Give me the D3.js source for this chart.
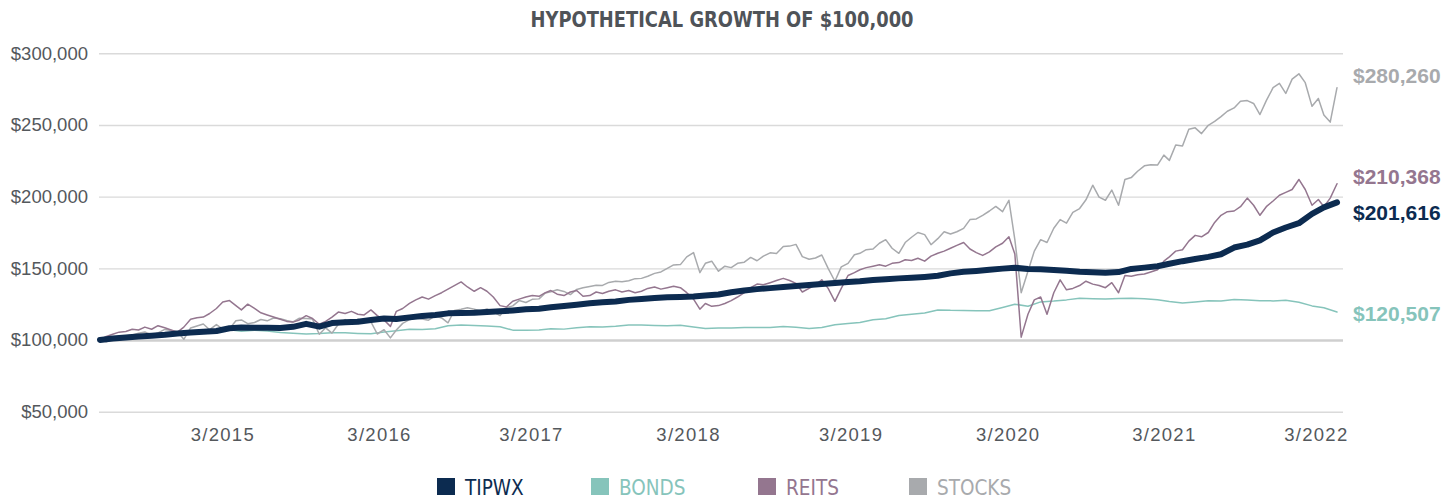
<!DOCTYPE html>
<html>
<head>
<meta charset="utf-8">
<script src="https://cdn.jsdelivr.net/npm/d3@7"></script>
<style>
  body { margin: 0; background: #fff; }
  svg { display: block; }
  .ytick text { font-family: "Liberation Sans", Arial, sans-serif; font-size: 18.5px; fill: #54585c; }
  .xtick text { font-family: "Liberation Sans", Arial, sans-serif; font-size: 18.5px; fill: #54585c; letter-spacing: 1.3px; }
  .title { font-family: "Liberation Sans Narrow", "DejaVu Sans Condensed", sans-serif; font-weight: bold; font-size: 22px; fill: #4f5358; }
  .legend text { font-family: "Liberation Sans Narrow", "DejaVu Sans Condensed", sans-serif; font-size: 20.5px; }
  .endlabel { font-family: "Liberation Sans", Arial, sans-serif; font-weight: bold; font-size: 21px; }
</style>
</head>
<body>
<svg id="chart"></svg>
<script>
// growth of $100,000, values in $ thousands
// TIPWX and BONDS: month-end values from 3/31/2014 to 3/31/2022
const tipwx = [
  100, 101, 101.8, 102.5, 103, 103.6, 104.5, 105.2, 105.8, 106.3,
  108.2, 108.8, 108.6, 108.5, 108.4, 109.2, 111.3, 109.3, 111.8, 112.4,
  112.8, 114, 115, 114.6, 115.8, 116.8, 117.5, 118.6, 118.8, 119,
  119.5, 120, 120.6, 121.4, 121.8, 122.8, 123.8, 124.6, 125.6, 126.3,
  126.9, 128, 128.6, 129.3, 129.8, 130, 130.4, 131, 131.8, 133.3,
  134.6, 135.5, 136.2, 137, 137.6, 138.3, 139, 139.8, 140.5, 141,
  141.8, 142.4, 143, 143.4, 144, 144.8, 146.5, 147.6, 148.2, 149,
  149.8, 150.4, 149.5, 149.3, 148.9, 148.3, 147.6, 147.3, 146.9, 147.4,
  149.6, 150.5, 151.5, 153.2, 155, 156.5, 158, 159.8, 164.5, 166.5,
  169.5, 175, 178.5, 181.5, 188, 192.5, 196
];
const bonds = [
  100, 100.8, 101.5, 102.5, 102.6, 103.7, 103.5, 104.3, 105, 105.1,
  107.2, 106.2, 106.8, 106.3, 105.2, 104.8, 104.2, 104.5, 105.1, 105,
  104.6, 104.3, 105.6, 106.5, 107.5, 107.4, 107.8, 110, 110.5, 110.2,
  109.8, 109.2, 106.9, 106.8, 107, 107.8, 107.6, 108.5, 109.3, 109.1,
  109.6, 110.5, 110.4, 110.2, 109.9, 110.3, 109.1, 108.1, 108.3, 108.4,
  108.8, 108.7, 108.8, 109.5, 108.9, 108.1, 108.7, 110.6, 111.6, 112.2,
  114.2, 114.8, 117.1, 118, 118.9, 121, 120.7, 120.6, 120.4, 120.4,
  122.7, 125, 123.5, 126.6, 127.2, 128, 129.2, 128.8, 128.6, 128.9,
  129.2, 128.8, 128.1, 126.9, 125.8, 126.6, 127.4, 127.2, 128.2, 128,
  127.4, 127.3, 127.7, 126.4, 123.8, 122.5, 119.5
];
// REITS and STOCKS: mid-month and month-end values from 3/31/2014 to 3/31/2022
const reits = [
  100, 102.5, 104, 105.5, 106, 107.5, 107, 109, 107.5, 110,
  108.5, 107, 105.5, 109, 114.5, 115.5, 116, 118.5, 122, 126.5,
  127.5, 124, 121, 125, 122, 119, 117.5, 116, 114.5, 113,
  112.5, 114, 117, 115, 111, 113, 116, 119.5, 118.5, 120,
  118, 117.5, 121, 117, 114, 109.5, 120, 122, 125.5, 128,
  130, 128.5, 131, 133, 135.5, 138, 140.5, 137, 134, 136.5,
  134, 130, 124, 123, 127, 128.5, 130, 131, 130.5, 133,
  134.5, 132, 131, 133.5, 134.5, 130.5, 131, 133.5, 132.5, 134,
  135, 133.5, 134.5, 133, 134, 136, 137, 135.5, 136.5, 137.5,
  136.5, 133, 128.5, 121.5, 125.5, 123.5, 124, 125.5, 127.5, 130,
  133, 136.5, 139, 138.5, 140, 141.5, 143, 141.5, 139.5, 133.5,
  136, 138.5, 142, 136, 127, 136, 145, 147, 149, 150.5,
  151.5, 152.5, 151.5, 153.5, 154, 156, 155.5, 157, 155, 158.5,
  160.5, 162, 164, 166, 168, 163.5, 161, 159, 161.5, 165,
  167.5, 172, 160, 102, 118, 128, 130, 118, 133, 142,
  135, 136, 138, 141, 139, 138, 136.5, 140, 133, 145,
  144.5, 145.5, 146, 147.5, 149, 155, 158, 162, 163, 169,
  173, 172, 175, 182, 187, 189.5, 190, 193, 199, 194,
  187, 193, 197, 201, 203, 205, 212, 205, 194, 198,
  193, 199, 209
];
const stocks = [
  100, 98.8, 100.7, 100.8, 102.8, 103.6, 104.8, 105.6, 103.6, 105,
  107.4, 106.6, 105.8, 100.5, 108.4, 109.8, 111.2, 107.2, 110.8, 107.6,
  107.9, 113.4, 114, 111.4, 112.2, 114.3, 113.4, 115.4, 114.8, 113.6,
  112.6, 115.2, 115, 114.6, 104, 108.5, 104.8, 111, 114.3, 111.4,
  114.5, 112.6, 112.7, 104.2, 107.2, 101.5, 107, 111.6, 114.2, 115.4,
  114.6, 113.8, 116.8, 115.4, 112, 120.6, 121.4, 122.5, 121.5, 120.2,
  121.6, 119.6, 117, 122.6, 123.8, 127.5, 126.2, 128.4, 128.7, 132.8,
  133.7, 135, 133.9, 131.7, 135.3, 136.4, 137.3, 138.2, 138.1, 140.2,
  141, 140.6, 141.3, 142.8, 143, 144.5, 146.5, 147.5, 150, 152.4,
  152.6, 158, 161, 147, 153.5, 155, 148, 151.5, 150.5, 153.5,
  154.3, 157.6, 155.3, 158.5, 160.8, 160.4, 165.2, 165.5, 166.7, 158.2,
  156.3, 157.2, 159.3, 150, 141, 151, 153.5, 159.5, 160.5, 163,
  163.5, 167.5, 170, 164, 160.5, 168, 171.7, 175, 173.5, 166.5,
  170.7, 175.5, 174, 175.5, 177.9, 184, 184.5, 187, 190, 193.2,
  189.5, 197.5, 170, 133, 148, 162, 170, 168, 178, 184,
  181.5, 189, 191.7, 197.8, 208, 199.7, 197.5, 204.6, 194, 212,
  213.3, 217.7, 221.5, 222.3, 222, 229, 225.3, 236, 235.3, 247,
  248, 244, 249.8, 252.5, 255.8, 259.6, 261.9, 266.5, 267, 265,
  257.3, 267, 276, 279, 272, 282, 285.7, 279.5, 263, 268.5,
  257, 252, 276
];

const seriesNames = ["TIPWX", "BONDS", "REITS", "STOCKS"];
const endValues = [201616, 120507, 210368, 280260];
const yTicks = [50, 100, 150, 200, 250, 300];
const tickLabels = ["3/2015", "3/2016", "3/2017", "3/2018", "3/2019", "3/2020", "3/2021", "3/2022"];
const tickDates = ["2015-01-14", "2016-01-19", "2017-01-12", "2018-01-18", "2019-02-06", "2020-02-12", "2021-02-15", "2022-02-09"];

const colors = { TIPWX: "#0c2b50", BONDS: "#86c4bb", REITS: "#94768f", STOCKS: "#a8aaad" };

const W = 1445, H = 499;
const svg = d3.select("#chart").attr("width", W).attr("height", H);

const first = new Date(2014, 3, 1);
function monthEnd(i) { return d3.timeDay.offset(d3.timeMonth.offset(first, i), -1); }
function halfMonth(i) {
  const m = d3.timeMonth.offset(first, Math.floor(i / 2));
  return i % 2 === 0 ? d3.timeDay.offset(m, -1) : d3.timeDay.offset(m, 14);
}

const data = {
  TIPWX: tipwx.map((v, i) => ({ date: monthEnd(i), value: v })),
  BONDS: bonds.map((v, i) => ({ date: monthEnd(i), value: v })),
  REITS: reits.map((v, i) => ({ date: halfMonth(i), value: v })),
  STOCKS: stocks.map((v, i) => ({ date: halfMonth(i), value: v }))
};

const x = d3.scaleTime()
  .domain([new Date(2014, 2, 31), new Date(2022, 2, 31)])
  .range([100, 1337]);
const y = d3.scaleLinear().domain([50, 300]).range([411.7, 53.3]);

const gridLeft = 99, gridRight = 1343;

// gridlines + y labels
const yAxis = svg.append("g")
  .attr("class", "ytick")
  .attr("transform", `translate(${gridLeft},0)`)
  .call(d3.axisLeft(y).tickValues(yTicks)
    .tickSize(-(gridRight - gridLeft))
    .tickPadding(11)
    .tickFormat(d => d3.format("$,")(d * 1000)));
yAxis.select(".domain").remove();
yAxis.selectAll(".tick line")
  .attr("stroke", d => d === 100 ? "#cfcfcf" : "#dadada")
  .attr("stroke-width", d => d === 100 ? 2.6 : 1.4);

// x labels
const xAxis = svg.append("g")
  .attr("class", "xtick")
  .attr("transform", `translate(0,${y(50)})`)
  .call(d3.axisBottom(x)
    .tickValues(tickDates.map(d => d3.timeParse("%Y-%m-%d")(d)))
    .tickSize(0)
    .tickPadding(16)
    .tickFormat((d, i) => tickLabels[i]));
xAxis.select(".domain").remove();

// lines
const line = d3.line()
  .x(d => x(d.date))
  .y(d => y(d.value));

const drawOrder = ["BONDS", "STOCKS", "REITS", "TIPWX"];
drawOrder.forEach(name => {
  svg.append("path")
    .datum(data[name])
    .attr("fill", "none")
    .attr("stroke", colors[name])
    .attr("stroke-width", name === "TIPWX" ? 6 : 1.5)
    .attr("stroke-linejoin", "round")
    .attr("stroke-linecap", "round")
    .attr("d", line);
});

// end labels
const labelNudge = { TIPWX: 12, BONDS: 3.5, REITS: -5, STOCKS: -10 };
seriesNames.forEach((name, i) => {
  const last = data[name][data[name].length - 1];
  svg.append("text")
    .attr("class", "endlabel")
    .attr("x", 1353)
    .attr("y", y(last.value) + labelNudge[name])
    .attr("dominant-baseline", "middle")
    .attr("fill", colors[name])
    .text(d3.format("$,")(endValues[i]));
});

// title
svg.append("text")
  .attr("class", "title")
  .attr("x", 722)
  .attr("y", 27)
  .attr("text-anchor", "middle")
  .attr("textLength", 383)
  .attr("lengthAdjust", "spacingAndGlyphs")
  .text("HYPOTHETICAL GROWTH OF $100,000");

// legend
const legendX = [437, 591, 758, 909];
const legend = svg.append("g").attr("class", "legend");
seriesNames.forEach((name, i) => {
  const g = legend.append("g").attr("transform", `translate(${legendX[i]},478)`);
  g.append("rect").attr("width", 18).attr("height", 17).attr("fill", colors[name]);
  g.append("text").attr("x", 28).attr("y", 17).attr("fill", colors[name]).text(name);
});
</script>
</body>
</html>
